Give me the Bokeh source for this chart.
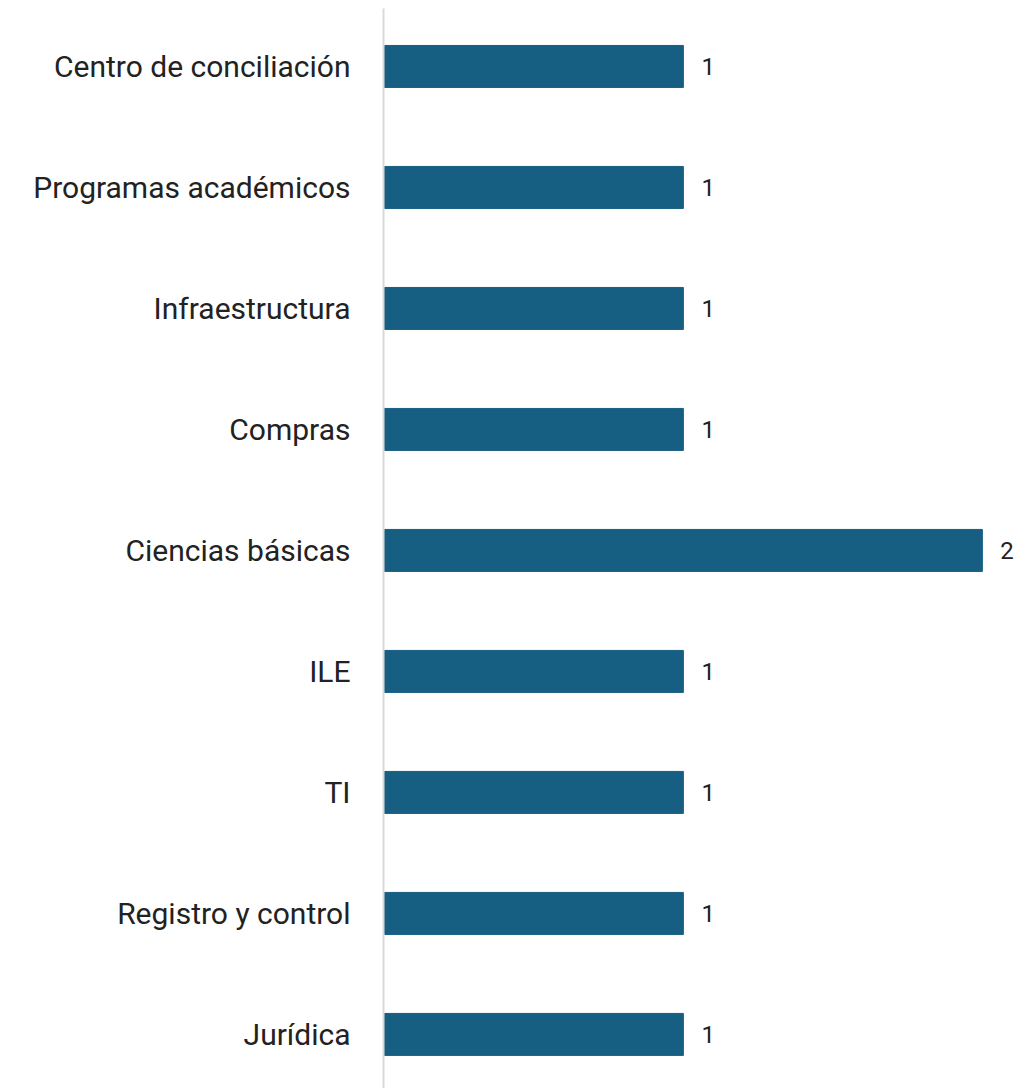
from bokeh.plotting import figure
from bokeh.models import ColumnDataSource, FixedTicker, Range1d
from bokeh.core.properties import value
from bokeh.embed import file_html
from bokeh.resources import INLINE

categories = ["Centro de conciliación", "Programas académicos", "Infraestructura",
              "Compras", "Ciencias básicas", "ILE", "TI", "Registro y control", "Jurídica"]
counts = [1, 1, 1, 1, 2, 1, 1, 1, 1]

n = len(categories)
ypos = [n - 1 - i for i in range(n)]
src = ColumnDataSource(dict(y=ypos, v=counts, lbl=[str(c) for c in counts]))

p = figure(width=1033, height=1088, output_backend="svg", toolbar_location=None,
           x_range=Range1d(-0.003, 2.171), y_range=Range1d(-0.447, 8.479),
           min_border_left=383, min_border_right=0, min_border_top=8, min_border_bottom=0)

p.hbar(y="y", right="v", left=0, height=0.347, source=src, fill_color="#175F82",
       line_color="#175F82")
p.text(x="v", y="y", text="lbl", source=src, x_offset=18, text_baseline="middle",
       text_align="left", text_font=value("Roboto"), text_font_size="24px", text_color="#222222")

p.xaxis.visible = False
p.xgrid.visible = False
p.ygrid.visible = False
p.outline_line_color = None

ax = p.yaxis[0]
ax.ticker = FixedTicker(ticks=ypos)
ax.major_label_overrides = {y: c for y, c in zip(ypos, categories)}
ax.axis_line_color = "#d9d9d9"
ax.axis_line_width = 2
ax.major_tick_line_color = None
ax.minor_tick_line_color = None
ax.major_label_standoff = 27
ax.major_label_text_font = "Roboto"
ax.major_label_text_font_size = "30px"
ax.major_label_text_color = "#222222"

open("out.html", "w").write(file_html(p, INLINE))
